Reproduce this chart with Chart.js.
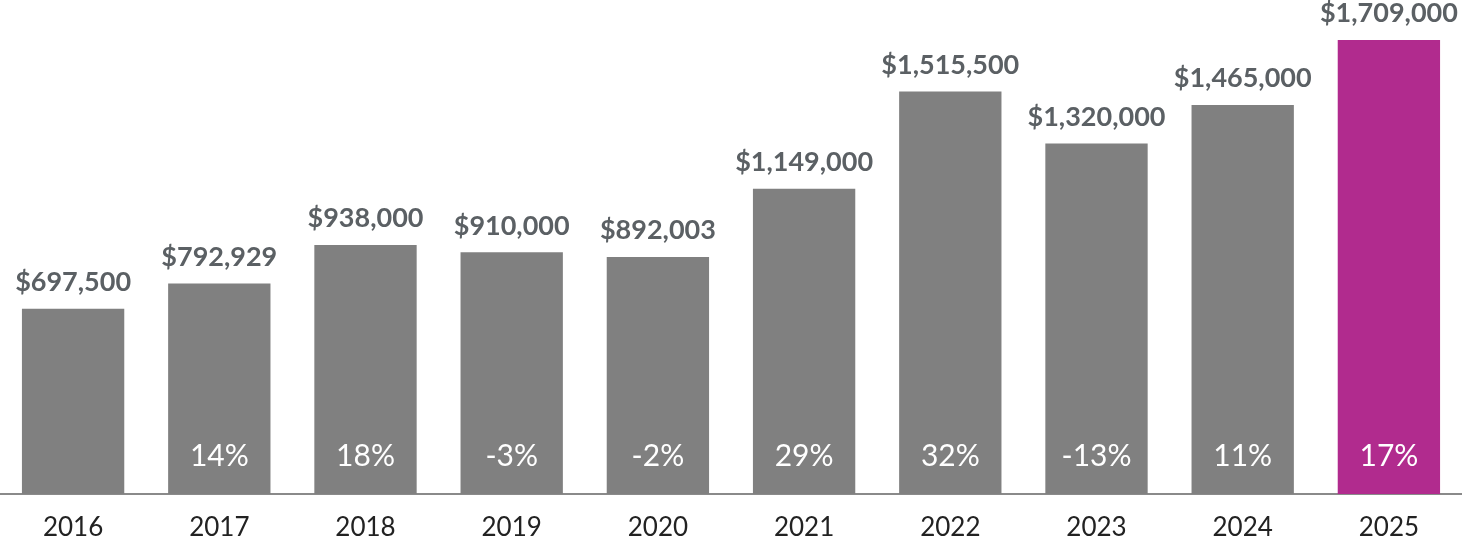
<!DOCTYPE html>
<html>
<head>
<meta charset="utf-8">
<script src="https://cdn.jsdelivr.net/npm/chart.js@4/dist/chart.umd.min.js"></script>
<style>
  html, body { margin: 0; padding: 0; background: #fff; }
  #wrap { width: 1462px; height: 546px; }
</style>
</head>
<body>
<div id="wrap"><canvas id="priceChart" width="1462" height="546"></canvas></div>
<script>
const years = ['2016', '2017', '2018', '2019', '2020', '2021', '2022', '2023', '2024', '2025'];
const medianPrices = [697500, 792929, 938000, 910000, 892003, 1149000, 1515500, 1320000, 1465000, 1709000];
const yearChange = [null, '14%', '18%', '-3%', '-2%', '29%', '32%', '-13%', '11%', '17%'];

const grey = '#808080';
const magenta = '#b12b8e';
const barColors = years.map((y, i) => i === years.length - 1 ? magenta : grey);

const money = v => '$' + v.toLocaleString('en-US');

// value above each bar, percent change near the bottom
const barLabels = {
  id: 'barLabels',
  afterDatasetsDraw(chart) {
    const { ctx } = chart;
    const meta = chart.getDatasetMeta(0);
    ctx.save();
    ctx.textAlign = 'center';
    meta.data.forEach((bar, i) => {
      ctx.fillStyle = '#5b6064';
      ctx.font = 'bold 27px Lato, sans-serif';
      ctx.textBaseline = 'bottom';
      ctx.fillText(money(medianPrices[i]), bar.x, bar.y - 13);

      if (yearChange[i]) {
        ctx.fillStyle = '#ffffff';
        ctx.font = '30px Lato, sans-serif';
        ctx.textBaseline = 'middle';
        ctx.fillText(yearChange[i], bar.x, 456);
      }
    });
    ctx.restore();
  }
};

new Chart(document.getElementById('priceChart'), {
  type: 'bar',
  data: {
    labels: years,
    datasets: [{
      data: medianPrices,
      backgroundColor: barColors,
      borderWidth: 0,
      barPercentage: 0.7,
      categoryPercentage: 1.0
    }]
  },
  options: {
    animation: false,
    responsive: false,
    layout: { padding: 0 },
    plugins: {
      legend: { display: false },
      tooltip: { enabled: false }
    },
    scales: {
      x: {
        grid: { display: false, drawTicks: false },
        border: { display: true, color: '#8a8a8a', width: 2 },
        ticks: {
          color: '#222222',
          font: { family: 'Lato, sans-serif', size: 26 },
          padding: 18
        },
        afterFit(axis) { axis.height = 52; }
      },
      y: {
        display: false,
        min: 0,
        max: 1860000
      }
    }
  },
  plugins: [barLabels]
});
</script>
</body>
</html>
